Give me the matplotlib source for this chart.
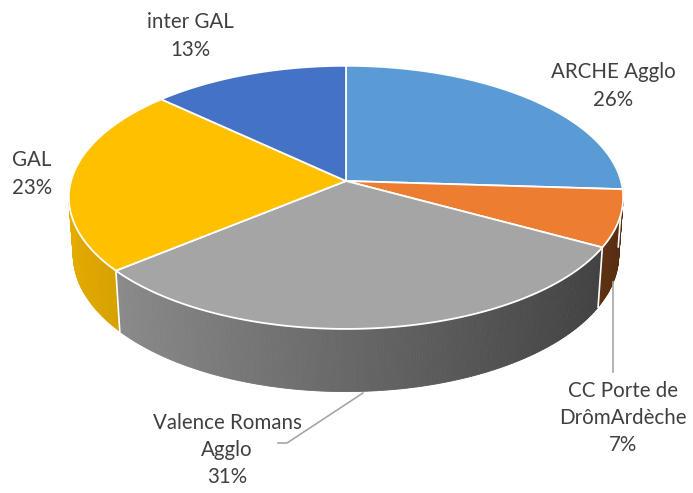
import numpy as np
import matplotlib.pyplot as plt
from matplotlib.patches import Polygon
from matplotlib import colors as mcolors

# Data
labels = ['ARCHE Agglo', 'CC Porte de\nDrômArdèche', 'Valence Romans\nAgglo', 'GAL', 'inter GAL']
values = [26, 7, 31, 23, 13]
slice_colors = ['#5b9bd5', '#ed7d31', '#a5a5a5', '#ffc000', '#4472c4']

# 3D pie geometry (pixel space)
cx, cy = 346, 181       # screen position of the pie centre
R = 275                 # radius in pixels
tilt = np.radians(28.1)
D = 7.09                # camera distance (in radius units)
h = 0.24                # thickness (in radius units)


def project(theta, y):
    # theta measured clockwise from 12 o'clock, y = height (0 top, -h bottom)
    X = np.sin(theta)
    Z = np.cos(theta)
    yc = y * np.cos(tilt) + Z * np.sin(tilt)
    zc = -y * np.sin(tilt) + Z * np.cos(tilt)
    f = D / (D + zc)
    return cx + X * f * R, cy - yc * f * R


def centre(y):
    yc = y * np.cos(tilt)
    zc = -y * np.sin(tilt)
    f = D / (D + zc)
    return cx, cy - yc * f * R


fig = plt.figure(figsize=(6.93, 4.93), dpi=100)
ax = fig.add_axes([0, 0, 1, 1])
ax.set_xlim(0, 693)
ax.set_ylim(493, 0)
ax.axis('off')

fracs = np.array(values) / sum(values)
bounds = np.concatenate([[0], np.cumsum(fracs)]) * 2 * np.pi

# side walls, lit from the left
for i in range(len(values)):
    a0, a1 = bounds[i], bounds[i + 1]
    ts = np.linspace(a0, a1, max(int((a1 - a0) / 0.01), 2))
    base = np.array(mcolors.to_rgb(slice_colors[i]))
    for t0, t1 in zip(ts[:-1], ts[1:]):
        tm = (t0 + t1) / 2
        if np.cos(tm) > 0.15:
            continue
        k = 0.63 - 0.27 * np.sin(tm)
        xa, ya = project(t0, 0)
        xb, yb = project(t1, 0)
        xc, yc2 = project(t1, -h)
        xd, yd = project(t0, -h)
        ax.add_patch(Polygon([(xa, ya), (xb, yb), (xc, yc2), (xd, yd)],
                             closed=True, facecolor=base * k, edgecolor=base * k,
                             linewidth=0.6, zorder=1))
    # white seam at slice boundary on the wall
    if np.cos(a0) < 0.1:
        x0, y0 = project(a0, 0)
        x1, y1 = project(a0, -h)
        ax.plot([x0, x1], [y0, y1], color='white', lw=1.2, zorder=2)

# top faces
for i in range(len(values)):
    a0, a1 = bounds[i], bounds[i + 1]
    ts = np.linspace(a0, a1, 200)
    xs, ys = project(ts, 0)
    pts = [centre(0)] + list(zip(xs, ys))
    ax.add_patch(Polygon(pts, closed=True, facecolor=slice_colors[i],
                         edgecolor='white', linewidth=1.3, zorder=3))

# labels
txt = dict(color='#404040', fontsize=14.8, family=['Lato', 'DejaVu Sans'],
           ha='center', va='center', linespacing=1.45, zorder=5)
ax.text(190, 36, 'inter GAL\n13%', **txt)
ax.text(613, 86, 'ARCHE Agglo\n26%', **txt)
ax.text(32, 174, 'GAL\n23%', **txt)
ax.text(623, 418, 'CC Porte de\nDrômArdèche\n7%', **txt)
ax.text(227, 450, 'Valence Romans\nAgglo\n31%', **txt)

# leader lines
ax.plot([613, 613], [282, 372], color='#a6a6a6', lw=1.2, zorder=4)
ax.plot([363, 287, 278], [393, 443, 443], color='#a6a6a6', lw=1.2, zorder=4)

fig.savefig('out.png', dpi=100)
